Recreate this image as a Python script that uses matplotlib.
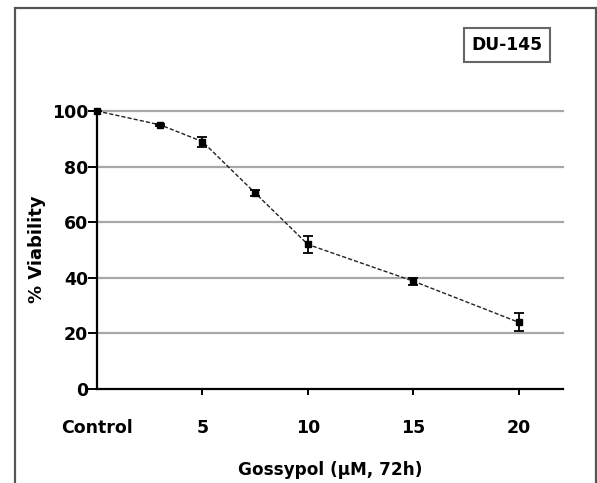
import matplotlib
matplotlib.use("Agg")
import matplotlib.pyplot as plt
from matplotlib.patches import Rectangle

conc = [0, 3, 5, 7.5, 10, 15, 20]
viability = [100, 95, 89, 70.5, 52, 38.8, 24]
err = [0, 0.5, 1.8, 1.0, 2.9, 1.3, 3.3]
xticks = [0, 5, 10, 15, 20]
xticklabels = ["Control", "5", "10", "15", "20"]
yticks = [0, 20, 40, 60, 80, 100]

plt.rcParams['font.family'] = ['DejaVu Sans']

W, H = 597, 483
fig = plt.figure(figsize=(W / 100, H / 100), dpi=100)

# outer frame
fig.patches.append(Rectangle((15 / W, -0.05), (596 - 15) / W, (483 - 8) / H + 0.05,
                             transform=fig.transFigure, fill=False,
                             edgecolor='#555555', lw=1.6))

ax = fig.add_axes([97 / W, (H - 389) / H, (563 - 97) / W, (389 - 111) / H])
ax.set_xlim(0, 22.1)
ax.set_ylim(0, 100)

for y in yticks[1:]:
    ax.axhline(y, color='#a8a8a8', lw=1.6, zorder=1, clip_on=False)

ax.errorbar(conc, viability, yerr=err, fmt='s', color='black', ms=4.5,
            ecolor='black', elinewidth=1.3, capsize=3.5, capthick=1.3,
            zorder=3, clip_on=False)
ax.plot(conc, viability, color='#222222', lw=1.0, ls=(0, (3, 1.5)), zorder=2,
        clip_on=False)

for s in ['top', 'right']:
    ax.spines[s].set_visible(False)
for s in ['left', 'bottom']:
    ax.spines[s].set_linewidth(1.6)
    ax.spines[s].set_color('black')

ax.set_xticks(xticks)
ax.set_xticklabels(xticklabels)
ax.set_yticks(yticks)
ax.tick_params(axis='x', direction='out', length=4.5, width=1.4, pad=17,
               labelsize=12.5)
ax.tick_params(axis='y', direction='out', length=6.5, width=1.4, pad=0,
               labelsize=12.5)
for lbl in ax.get_xticklabels() + ax.get_yticklabels():
    lbl.set_fontweight('bold')
ax.xaxis.get_major_ticks()[0].tick1line.set_visible(False)

ax.set_xlabel('Gossypol (\u00b5M, 72h)', fontsize=12.2, fontweight='bold', va='center')
ax.set_ylabel('% Viability', fontsize=13, fontweight='bold', va='center')
ax.xaxis.set_label_coords((330 - 97) / (563 - 97), (389 - 470) / (389 - 111))
ax.yaxis.set_label_coords((37 - 97) / (563 - 97), (389 - 249) / (389 - 111))

fig.text(507 / W, 1 - 45 / H, 'DU-145', ha='center', va='center',
         fontsize=12.3, fontweight='bold',
         bbox=dict(boxstyle='square,pad=0.45', fc='white', ec='#666666', lw=1.5))

fig.savefig('out.png', dpi=100)
